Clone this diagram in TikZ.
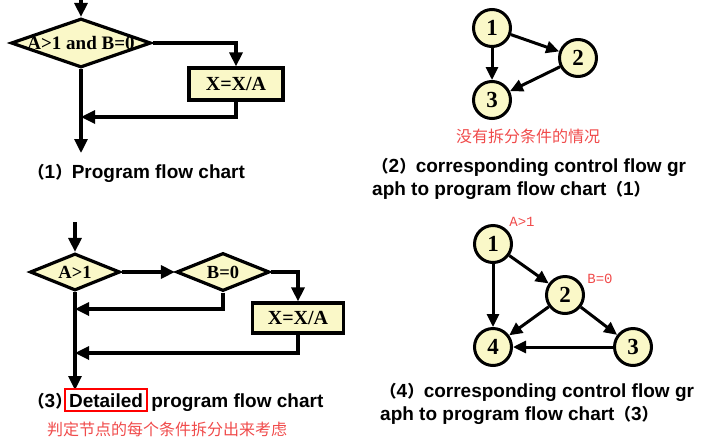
\documentclass[tikz,border=0pt]{standalone}
\usepackage{fontspec}
\setmainfont{Liberation Serif}
\setsansfont{Liberation Sans}
\newfontfamily\cjkfont{Noto Sans CJK SC}
\newfontfamily\labelfont{Liberation Mono}
\usetikzlibrary{arrows.meta,shapes.geometric,positioning}
\definecolor{nodefill}{RGB}{250,248,200}
\definecolor{notered}{RGB}{240,75,75}
\newcommand\capnum[1]{{\cjkfont\fontsize{16.5}{18}\selectfont （}#1{\cjkfont\fontsize{16.5}{18}\selectfont ）}}

\begin{document}
\begin{tikzpicture}[x=1pt,y=-1pt,->,>={Triangle[length=14pt,width=13pt]},
  flow line/.style={line width=3.2pt},
  flow node/.style={rectangle,draw,fill=nodefill,line width=3.2pt,inner sep=0pt,font=\bfseries\fontsize{20}{22}\selectfont},
  decision/.style={diamond,draw,fill=nodefill,line width=3.2pt,inner sep=0pt},
  flow text/.style={inner sep=0pt,font=\bfseries\fontsize{18.5}{20}\selectfont},
  graph node/.style={circle,draw,fill=nodefill,minimum size=37pt,inner sep=0pt,line width=3pt,font=\bfseries\fontsize{23}{25}\selectfont},
  caption/.style={inner sep=0pt,align=left,font=\sffamily\bfseries\fontsize{19}{22.5}\selectfont},
  note/.style={inner sep=0pt,text=notered,font=\cjkfont\fontsize{16}{18}\selectfont},
  cond/.style={inner sep=0pt,text=notered,font=\labelfont\fontsize{14}{16}\selectfont}]

    \useasboundingbox (0,0) rectangle (715,440);

    % (1) program flow chart
    \coordinate (s1) at (81,0);
    \node[decision, minimum width=140pt, minimum height=49pt] (d1) at (81,43) {};
    \node[flow text, font=\bfseries\fontsize{19}{21}\selectfont] (t1) at (d1) {A>1 and B=0};
    \node[flow node, minimum width=94pt, minimum height=32pt] (b1) at (236,84) {X=X/A};
    \coordinate (m1) at (81,117);
    \coordinate (e1) at (81,153);

    \draw[flow line] (s1) -- (d1);
    \draw[flow line] (d1.east) -| (b1.north);
    \draw[flow line] (b1.south) |- (m1);
    \draw[flow line] (d1.south) -- (e1);

    \node[caption, anchor=base west] (c1) at (28,178) {\capnum{1}Program flow chart};

    % (3) detailed program flow chart
    \coordinate (s3) at (75,222);
    \node[decision, minimum width=90pt, minimum height=37pt] (d3a) at (75,272) {};
    \node[flow text] (t3a) at (d3a) {A>1};
    \node[decision, minimum width=93pt, minimum height=38pt] (d3b) at (223,272) {};
    \node[flow text] (t3b) at (d3b) {B=0};
    \node[flow node, minimum width=91pt, minimum height=30pt] (b3) at (298,318) {X=X/A};
    \coordinate (m3a) at (75,309);
    \coordinate (m3b) at (75,353);
    \coordinate (e3) at (75,390);

    \draw[flow line] (s3) -- (d3a);
    \draw[flow line] (d3a) -- (d3b);
    \draw[flow line] (d3b.east) -| (b3.north);
    \draw[flow line] (d3b.south) |- (m3a);
    \draw[flow line] (b3.south) |- (m3b);
    \draw[flow line] (d3a.south) -- (e3);

    \node[caption, anchor=base west] (c3a) at (28,407) {\capnum{3}};
    \node[caption, anchor=base west, draw=red, line width=2.2pt, inner xsep=4pt, inner ysep=4pt] (c3b) at ([xshift=-8pt]c3a.base east) {Detailed};
    \node[caption, anchor=base west] (c3c) at ([xshift=3pt]c3b.base east) {program flow chart};
    \node[note, anchor=west] (n3) at (47,429) {判定节点的每个条件拆分出来考虑};

    % (2) control flow graph of (1)
    \node[graph node] (g1) at (492,28) {1};
    \node[graph node] (g2) at (578,58) {2};
    \node[graph node] (g3) at (492,100) {3};

    \path[>={Triangle[length=13pt,width=12pt]}, line width=3pt]
        (g1) edge (g2)
        (g1) edge (g3)
        (g2) edge (g3)
    ;

    \node[note] (n2) at (528,136) {没有拆分条件的情况};
    \node[caption, anchor=north west] (c2) at (372,158.5) {\capnum{2}corresponding control flow gr\\aph to program flow chart\capnum{1}};

    % (4) control flow graph of (3)
    \node[graph node] (h1) at (493,244) {1};
    \node[graph node] (h2) at (565,295) {2};
    \node[graph node] (h3) at (633,347) {3};
    \node[graph node] (h4) at (493,347) {4};

    \node[cond] (l1) at (522,222) {A>1};
    \node[cond] (l2) at (600,279) {B=0};

    \path[>={Triangle[length=13pt,width=12pt]}, line width=3pt]
        (h1) edge (h2)
        (h1) edge (h4)
        (h2) edge (h4)
        (h2) edge (h3)
        (h3) edge (h4)
    ;

    \node[caption, anchor=north west] (c4) at (380,383.5) {\capnum{4}corresponding control flow gr\\aph to program flow chart\capnum{3}};
\end{tikzpicture}
\end{document}
